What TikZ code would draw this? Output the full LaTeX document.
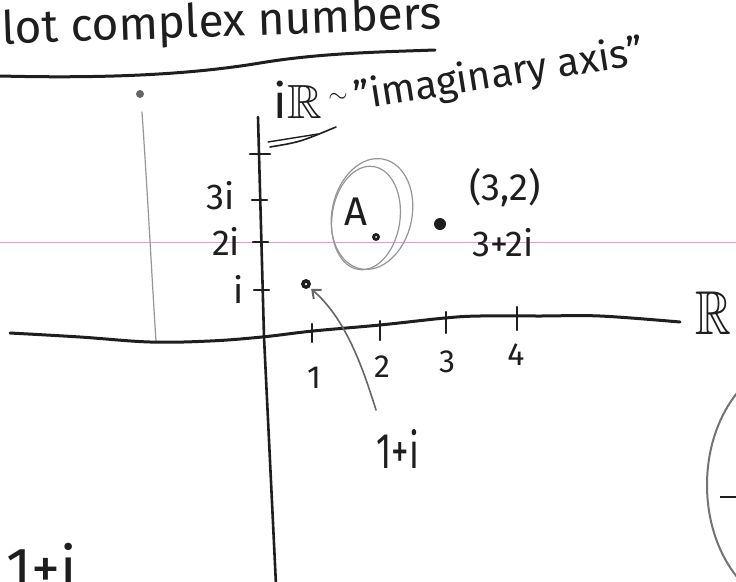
\documentclass[tikz,border=0pt]{standalone}
\usepackage{fontspec}
\setmainfont{Fira Sans}
\usepackage{amssymb}
\usetikzlibrary{arrows.meta}
\definecolor{ink}{RGB}{30,30,30}
\definecolor{pencil}{RGB}{150,150,150}
\definecolor{scanline}{RGB}{235,150,235}
\tikzset{
  inkline/.style={draw=ink, line width=3pt, line cap=round, line join=round},
  axisline/.style={draw=ink, line width=2.6pt, line cap=round, line join=round},
  tickmark/.style={draw=ink, line width=2.2pt, line cap=round},
  pencilline/.style={draw=pencil, line width=1.2pt, line cap=round},
  hand/.style={text=ink, inner sep=0pt, outer sep=0pt},
  dotmark/.style={circle, fill=ink, inner sep=0pt, minimum size=#1},
  hole/.style={circle, fill=white, inner sep=0pt, minimum size=2.5pt}
}
\begin{document}
\begin{tikzpicture}[x=1pt,y=-1pt]
\useasboundingbox (0,0) rectangle (736,581);
\clip (0,0) rectangle (736,581);
\fill[white] (0,0) rectangle (736,581);

% scan line
\draw[scanline, line width=0.8pt] (0,242) -- (736,242);

% title
\node[hand, anchor=base west, rotate=2, font=\fontsize{46}{46}\selectfont] (title) at (-24,45) {Plot complex numbers};
\draw[inkline] (0,76) .. controls (120,79) and (200,73) .. (260,63) .. controls (320,53) and (380,52) .. (435,50);

% imaginary axis label
\node[hand, font=\fontsize{48}{48}\selectfont] (iR) at (298,100) {i$\mathbb{R}$};
\node[hand, font=\fontsize{44}{44}\selectfont] (tilde) at (338,98) {$\sim$};
\node[hand, anchor=base west, rotate=9, font=\fontsize{40}{40}\selectfont] (imag) at (356,110) {"imaginary axis"};
\draw[inkline, line width=1.6pt] (270,147) .. controls (300,142) .. (336,127);
\draw[inkline, line width=1.4pt] (268,142) -- (318,134);

% pencil dot and line
\node[dotmark=8pt, fill=black!60] (pdot) at (140,94) {};
\draw[pencilline] (142,112) .. controls (148,200) and (152,280) .. (156,341);

% real axis
\draw[inkline] plot[smooth, tension=0.6] coordinates {(10,333) (80,337) (150,342) (210,341) (262,337) (313,331) (380,325) (445,318) (480,316) (540,316) (600,316) (680,322)};
\node[hand, font=\fontsize{62}{62}\selectfont, xscale=0.8] (R) at (713,313) {$\mathbb{R}$};

% imaginary axis
\draw[axisline] (258,117) -- (264,337) -- (276,585);

% y ticks
\draw[tickmark] (250,154) -- (270,154);
\draw[tickmark] (252,200) -- (267,200);
\draw[tickmark] (253,242) -- (268,242);
\draw[tickmark] (254,290) -- (269,290);
\node[hand, font=\fontsize{36}{36}\selectfont] (l3i) at (221,196) {3i};
\node[hand, font=\fontsize{36}{36}\selectfont] (l2i) at (226,241) {2i};
\node[hand, font=\fontsize{36}{36}\selectfont] (li) at (239,289) {i};

% x ticks
\draw[tickmark] (312,324) -- (312,342);
\draw[tickmark] (380,321) -- (380,340);
\draw[tickmark] (446,312) -- (446,333);
\draw[tickmark] (517,307) -- (517,330);
\node[hand, font=\fontsize{32}{32}\selectfont] (x1) at (314,378) {1};
\node[hand, font=\fontsize{32}{32}\selectfont] (x2) at (382,367) {2};
\node[hand, font=\fontsize{32}{32}\selectfont] (x3) at (447,362) {3};
\node[hand, font=\fontsize{32}{32}\selectfont] (x4) at (516,355) {4};

% point 1+i
\node[dotmark=10pt] (p11) at (306,284) {};
\node[hole] at (p11) {};
\coordinate (tail) at (376,410);
\draw[draw=black!60, line width=1.6pt, line cap=round, -{Straight Barb[length=7pt, width=12pt, line width=2pt]}, shorten >=2pt]
  (tail) .. controls (362,365) and (345,318) .. (p11.south east);
\node[hand, font=\fontsize{50}{50}\selectfont, xscale=0.7] (l11) at (398,449) {1+i};

% region A
\draw[pencilline, rotate around={-8:(366,218)}] (366,218) ellipse [x radius=34, y radius=52];
\draw[pencilline, rotate around={-12:(372,214)}] (372,214) ellipse [x radius=40, y radius=56];
\node[hand, font=\fontsize{40}{40}\selectfont] (A) at (356,212) {A};
\node[dotmark=8pt] (pA) at (376,237) {};
\node[hole, minimum size=2pt] at (pA) {};

% point (3,2)
\node[dotmark=12pt] (p32) at (440,224) {};
\node[hand, font=\fontsize{38}{38}\selectfont] (l32) at (505,188) {(3,2)};
\node[hand, font=\fontsize{36}{36}\selectfont] (l32b) at (503,243) {3+2i};

% bottom-left partial text
\node[hand, anchor=north west, font=\fontsize{58}{58}\selectfont] (bl) at (6,543) {1+i};

% bottom-right partial circle
\draw[draw=black!55, line width=2pt] (800,485) ellipse [x radius=93, y radius=125];
\draw[draw=ink, line width=2pt] (720,497) -- (740,497);
\end{tikzpicture}
\end{document}
